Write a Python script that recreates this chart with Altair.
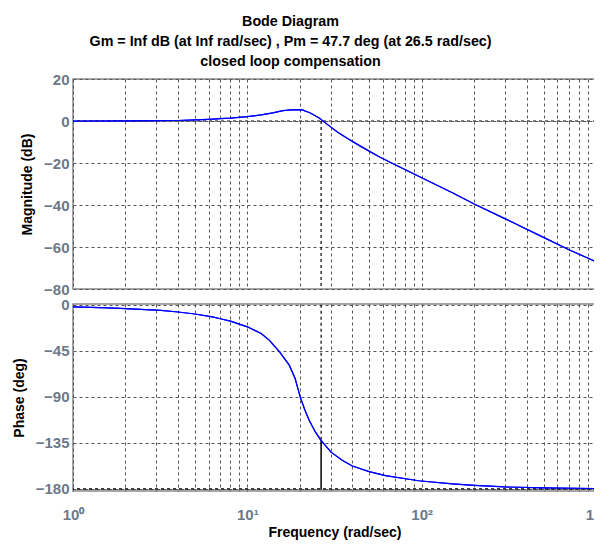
import altair as alt
import pandas as pd

# ---- data ----
freq_mag = [1, 2, 3, 4, 5, 6, 7, 8, 10, 12, 14, 16, 18, 20.5, 23, 25.8, 29.4, 33, 38, 45,
            57, 70, 100, 150, 200, 300, 500, 700, 1000]
mag_db = [0.0, 0.05, 0.15, 0.25, 0.5, 0.8, 1.1, 1.4, 2.1, 2.9, 3.9, 4.9, 5.3, 5.4, 3.8, 1.4,
          -2.2, -5.4, -8.6, -12.2, -17.0, -20.7, -27.0, -34.2, -39.5, -46.5, -55.4, -61.3, -67.0]

freq_phase = [1, 1.6, 2, 3.2, 4, 5, 6.3, 7, 8, 10, 12, 13.4, 15.3, 17.4, 18.8, 20.1, 21.3,
              22.6, 24.5, 26.4, 30.2, 35, 40, 50, 62, 96, 150, 200, 300, 500, 1000]
phase_deg = [-2.0, -3.0, -3.8, -5.5, -7.0, -9.0, -11.8, -13.6, -16.0, -21.5, -28.0, -34.7,
             -46.0, -59.0, -72.0, -90.0, -102.0, -112.6, -124.0, -132.3, -144.0, -152.0,
             -157.6, -163.0, -167.0, -172.0, -175.0, -176.5, -178.0, -179.0, -179.6]

tick_freqs = [1, 2, 3, 4, 5, 6, 7, 8, 9, 10, 20, 30, 40, 50, 60, 70, 80, 90,
              100, 200, 300, 400, 500, 600, 700, 800, 900, 1000]
mag_ticks = [20, 0, -20, -40, -60, -80]
phase_ticks = [0, -45, -90, -135, -180]

pm_freq = 26.5
pm_phase = -132.3

title_lines = ["Bode Diagram",
               "Gm = Inf dB (at Inf rad/sec) ,  Pm = 47.7 deg (at 26.5 rad/sec)",
               "closed loop compensation"]

# ---- styling ----
NARROW = "Liberation Sans Narrow, Arial Narrow, Liberation Sans, Arial"
SANS = "Liberation Sans, Arial"
LABEL_COLOR = "#6d7889"
GRID_COLOR = "#555555"
BLUE = "#0000ff"

label_expr = ("datum.value == 1 ? '10⁰' : datum.value == 10 ? '10¹' : "
              "datum.value == 100 ? '10²' : datum.value == 1000 ? '10³' : ''")

xscale = alt.Scale(type="log", domain=[1, 1000], nice=False)

mag_df = pd.DataFrame({"f": freq_mag, "v": mag_db})
phase_df = pd.DataFrame({"f": freq_phase, "v": phase_deg})

W = 523

# ---------------- magnitude panel ----------------
x_mag = alt.X("f:Q", scale=xscale,
              axis=alt.Axis(values=tick_freqs, labels=False, ticks=False, domain=False,
                            title=None, grid=True, gridDash=[3, 3], gridColor=GRID_COLOR,
                            gridOpacity=1))
y_mag = alt.Y("v:Q", scale=alt.Scale(domain=[-80, 20], nice=False),
              axis=alt.Axis(values=mag_ticks, title="Magnitude (dB)", grid=True,
                            gridDash=[3, 3], gridColor=GRID_COLOR, gridOpacity=1,
                            ticks=False, domain=False, titlePadding=9, labelPadding=4))

zero_rule = alt.Chart(pd.DataFrame({"v": [0]})).mark_rule(
    color="black", strokeDash=[3, 3], strokeWidth=1).encode(y="v:Q")
mag_marker = alt.Chart(pd.DataFrame({"f": [pm_freq], "v": [0], "v2": [-80]})).mark_rule(
    color="black", strokeDash=[3, 3], strokeWidth=1.2).encode(x="f:Q", y="v:Q", y2="v2:Q")
mag_line = alt.Chart(mag_df).mark_line(color=BLUE, strokeWidth=1.2).encode(x=x_mag, y=y_mag)

mag = alt.layer(mag_line, zero_rule, mag_marker, mag_line).properties(width=W, height=210)

# ---------------- phase panel ----------------
x_ph = alt.X("f:Q", scale=xscale,
             axis=alt.Axis(values=tick_freqs, labelExpr=label_expr, labelFlush=False,
                           labelOverlap=False, ticks=False, domain=False,
                           title="Frequency  (rad/sec)", grid=True, gridDash=[3, 3],
                           gridColor=GRID_COLOR, gridOpacity=1, labelPadding=16,
                           titlePadding=3))
y_ph = alt.Y("v:Q", scale=alt.Scale(domain=[-182, 0.8], nice=False),
             axis=alt.Axis(values=phase_ticks, title="Phase (deg)", grid=True,
                           gridDash=[3, 3], gridColor=GRID_COLOR, gridOpacity=1,
                           ticks=False, domain=False, titlePadding=9, labelPadding=4))

m180_rule = alt.Chart(pd.DataFrame({"v": [-180]})).mark_rule(
    color="black", strokeDash=[3, 3], strokeWidth=1.5).encode(y="v:Q")
ph_marker_dash = alt.Chart(pd.DataFrame({"f": [pm_freq], "v": [0], "v2": [pm_phase]})).mark_rule(
    color="black", strokeDash=[3, 3], strokeWidth=1.2).encode(x="f:Q", y="v:Q", y2="v2:Q")
ph_marker_solid = alt.Chart(pd.DataFrame({"f": [pm_freq], "v": [pm_phase], "v2": [-180]})).mark_rule(
    color="black", strokeWidth=1.5).encode(x="f:Q", y="v:Q", y2="v2:Q")
ph_line = alt.Chart(phase_df).mark_line(color=BLUE, strokeWidth=1.2).encode(x=x_ph, y=y_ph)

phase = alt.layer(ph_line, m180_rule, ph_marker_dash, ph_marker_solid, ph_line).properties(
    width=W, height=187)

chart = alt.vconcat(mag, phase, spacing=15, bounds="flush").properties(
    title=alt.TitleParams(text=title_lines, font=NARROW, fontSize=14.3, fontWeight="bold",
                          color="black", lineHeight=20, anchor="middle", dx=-19, offset=2),
    padding={"left": 3, "top": 6, "right": -14, "bottom": 1},
).configure_view(
    stroke="#888888", strokeWidth=1.5
).configure_axis(
    labelFont=SANS, labelFontSize=15, labelFontWeight="bold", labelColor=LABEL_COLOR,
    titleFont=SANS, titleFontSize=14, titleFontWeight="bold", titleColor="black"
)

chart.save("out.html", embed_options={"renderer": "svg", "actions": False})
